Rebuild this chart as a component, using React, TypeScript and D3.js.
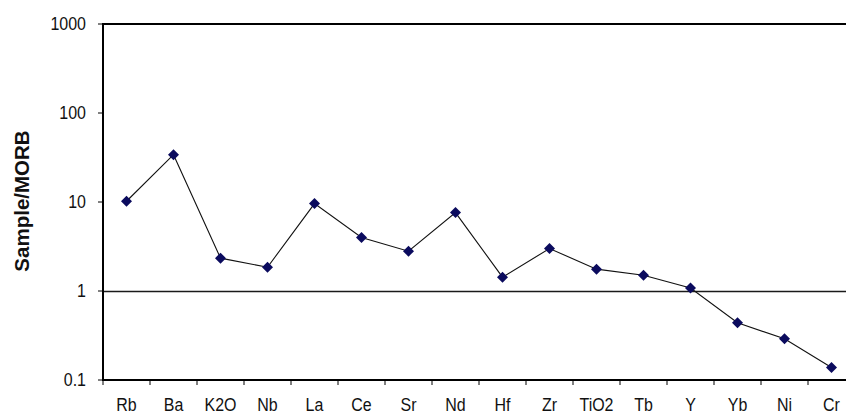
import React from "react";
import * as d3 from "d3";

const categories = ["Rb", "Ba", "K2O", "Nb", "La", "Ce", "Sr", "Nd", "Hf", "Zr", "TiO2", "Tb", "Y", "Yb", "Ni", "Cr"];
const values = [10.2, 34, 2.34, 1.85, 9.6, 4.0, 2.8, 7.6, 1.43, 3.0, 1.76, 1.5, 1.08, 0.44, 0.29, 0.138];
const yTicks = [0.1, 1, 10, 100, 1000];
const yTickLabels = ["0.1", "1", "10", "100", "1000"];
const yTitle = "Sample/MORB";

const W = 846;
const H = 416;
const left = 103;
const right = 855;
const top = 24;
const bottom = 380;

export default function App() {
  const x = d3.scaleBand<string>().domain(categories).range([left, right]).padding(0);
  const y = d3.scaleLog().domain([0.1, 1000]).range([bottom, top]);
  const line = d3
    .line<number>()
    .x((_, i) => (x(categories[i]) as number) + x.bandwidth() / 2)
    .y((v) => y(v));
  const font = "'Liberation Sans', Arial, sans-serif";
  const tickEdges = categories.map((c) => x(c) as number).concat([right]);
  return (
    <svg width={W} height={H} style={{ position: "absolute", left: 0, top: 0, background: "#fff" }}>
      <rect x={0} y={0} width={W} height={H} fill="#fff" />
      <line x1={left} x2={right} y1={Math.round(y(1)) + 0.5} y2={Math.round(y(1)) + 0.5} stroke="#1a1a1a" strokeWidth={1.4} />
      <line x1={left} x2={right} y1={top} y2={top} stroke="#000" strokeWidth={2} />
      <line x1={left} x2={left} y1={top - 1} y2={bottom + 1} stroke="#000" strokeWidth={2} />
      <line x1={left - 1} x2={right} y1={bottom} y2={bottom} stroke="#000" strokeWidth={2} />
      {yTicks.map((t, i) => (
        <g key={t}>
          <line x1={left - 5} x2={left} y1={y(t)} y2={y(t)} stroke="#000" strokeWidth={1} />
          <text
            transform={`translate(${left - 17},${y(t)}) scale(1,1.12)`}
            dy="0.36em"
            textAnchor="end"
            fontFamily={font}
            fontSize={16}
            fill="#111"
          >
            {yTickLabels[i]}
          </text>
        </g>
      ))}
      {tickEdges.map((e, i) => (
        <line key={i} x1={e} x2={e} y1={bottom} y2={bottom + 5} stroke="#000" strokeWidth={1} />
      ))}
      {categories.map((c) => (
        <text
          key={c}
          transform={`translate(${(x(c) as number) + x.bandwidth() / 2},411) scale(1,1.12)`}
          textAnchor="middle"
          fontFamily={font}
          fontSize={16}
          fill="#111"
        >
          {c}
        </text>
      ))}
      <text
        transform={`translate(29,201) rotate(-90)`}
        textAnchor="middle"
        fontFamily={font}
        fontSize={20.5}
        fontWeight="bold"
        fill="#111"
      >
        {yTitle}
      </text>
      <path d={line(values) || ""} fill="none" stroke="#111" strokeWidth={1.1} />
      {values.map((v, i) => {
        const cx = (x(categories[i]) as number) + x.bandwidth() / 2;
        const cy = y(v);
        const s = 5.5;
        return (
          <path
            key={i}
            d={`M${cx},${cy - s}L${cx + s},${cy}L${cx},${cy + s}L${cx - s},${cy}Z`}
            fill="#0b0b5e"
          />
        );
      })}
    </svg>
  );
}
